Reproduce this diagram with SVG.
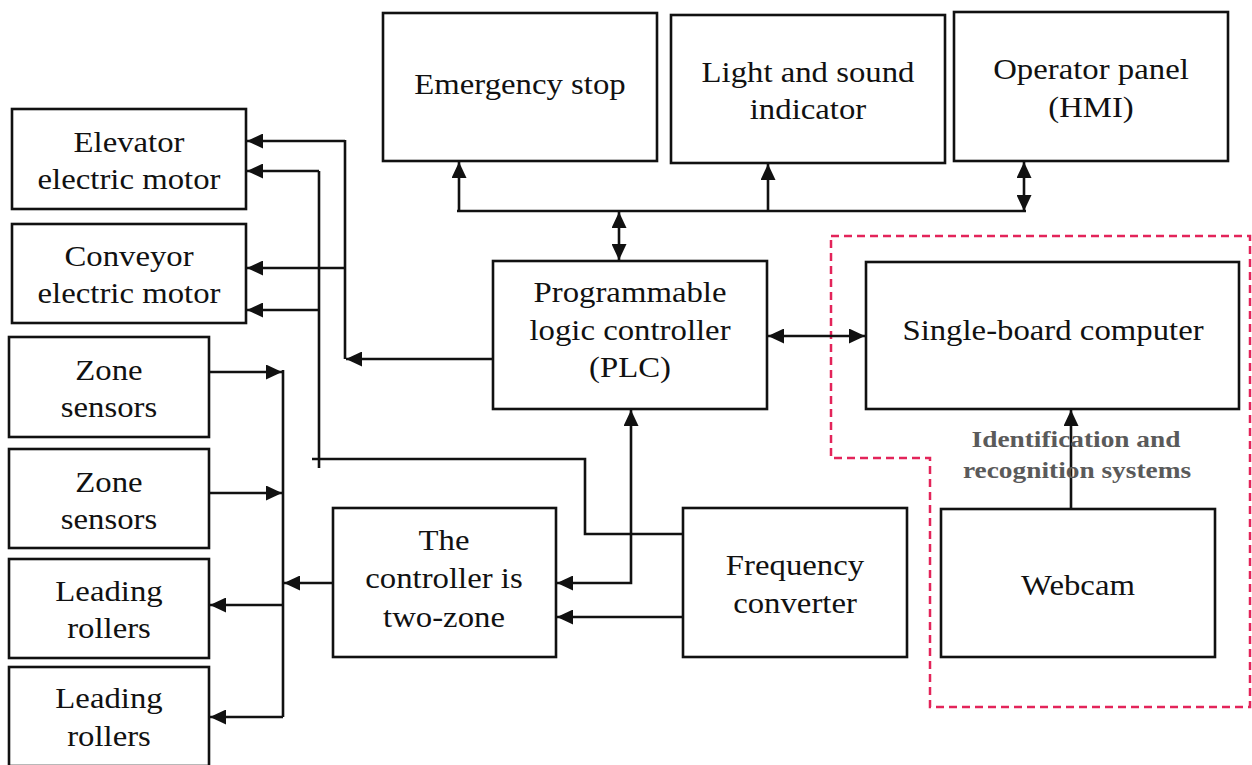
<svg xmlns="http://www.w3.org/2000/svg" width="1252" height="765" viewBox="0 0 1252 765">
<style>
.box{fill:#fff;stroke:#111;stroke-width:2.6}
.t{font-family:"Liberation Serif","Times New Roman",serif;font-size:29px;fill:#111;text-anchor:middle}
.lbl{font-family:"Liberation Serif","Times New Roman",serif;font-size:24px;font-weight:bold;fill:#5a5a5a;text-anchor:middle}
.ln{fill:none;stroke:#111;stroke-width:2.6}
.ar{fill:none;stroke:#111;stroke-width:2.6;marker-end:url(#ah)}
.dar{fill:none;stroke:#111;stroke-width:2.6;marker-start:url(#ah);marker-end:url(#ah)}
.zone{fill:none;stroke:#e3245a;stroke-width:2.5;stroke-dasharray:8 5}
</style>
<defs>
<marker id="ah" markerUnits="userSpaceOnUse" markerWidth="16" markerHeight="15" refX="16" refY="7.5" orient="auto-start-reverse">
<path d="M0,0 L16,7.5 L0,15 z" fill="#111"/>
</marker>
</defs>
<rect width="1252" height="765" fill="#fff"/>
<path class="zone" d="M831,236 L1250,236 L1250,707 L930,707 L930,458 L831,458 Z"/>
<g id="elevator"><rect class="box" x="12" y="109" width="234" height="100"/><text class="t" transform="translate(129,152) scale(1.13,1)">Elevator</text><text class="t" transform="translate(129,189) scale(1.13,1)">electric motor</text></g>
<g id="conveyor"><rect class="box" x="12" y="224" width="234" height="99"/><text class="t" transform="translate(129,266) scale(1.13,1)">Conveyor</text><text class="t" transform="translate(129,303) scale(1.13,1)">electric motor</text></g>
<g id="zone1"><rect class="box" x="9" y="337" width="200" height="100"/><text class="t" transform="translate(109,380) scale(1.13,1)">Zone</text><text class="t" transform="translate(109,417) scale(1.13,1)">sensors</text></g>
<g id="zone2"><rect class="box" x="9" y="449" width="200" height="99"/><text class="t" transform="translate(109,492) scale(1.13,1)">Zone</text><text class="t" transform="translate(109,529) scale(1.13,1)">sensors</text></g>
<g id="lead1"><rect class="box" x="9" y="559" width="200" height="99"/><text class="t" transform="translate(109,601) scale(1.13,1)">Leading</text><text class="t" transform="translate(109,638) scale(1.13,1)">rollers</text></g>
<g id="lead2"><rect class="box" x="9" y="667" width="200" height="99"/><text class="t" transform="translate(109,708) scale(1.13,1)">Leading</text><text class="t" transform="translate(109,746) scale(1.13,1)">rollers</text></g>
<g id="estop"><rect class="box" x="383" y="13" width="274" height="148"/><text class="t" transform="translate(520,94) scale(1.13,1)">Emergency stop</text></g>
<g id="light"><rect class="box" x="671" y="15" width="274" height="148"/><text class="t" transform="translate(808,82) scale(1.13,1)">Light and sound</text><text class="t" transform="translate(808,119) scale(1.13,1)">indicator</text></g>
<g id="hmi"><rect class="box" x="954" y="12" width="274" height="149"/><text class="t" transform="translate(1091,79) scale(1.13,1)">Operator panel</text><text class="t" transform="translate(1091,117) scale(1.13,1)">(HMI)</text></g>
<g id="plc"><rect class="box" x="493" y="261" width="274" height="148"/><text class="t" transform="translate(630,302) scale(1.13,1)">Programmable</text><text class="t" transform="translate(630,340) scale(1.13,1)">logic controller</text><text class="t" transform="translate(630,377) scale(1.13,1)">(PLC)</text></g>
<g id="sbc"><rect class="box" x="866" y="262" width="373" height="147"/><text class="t" transform="translate(1053,340) scale(1.13,1)">Single-board computer</text></g>
<g id="ctrl"><rect class="box" x="333" y="508" width="223" height="149"/><text class="t" transform="translate(444,550) scale(1.13,1)">The</text><text class="t" transform="translate(444,588) scale(1.13,1)">controller is</text><text class="t" transform="translate(444,627) scale(1.13,1)">two-zone</text></g>
<g id="freq"><rect class="box" x="683" y="508" width="224" height="149"/><text class="t" transform="translate(795,575) scale(1.13,1)">Frequency</text><text class="t" transform="translate(795,613) scale(1.13,1)">converter</text></g>
<g id="webcam"><rect class="box" x="941" y="509" width="274" height="148"/><text class="t" transform="translate(1078,595) scale(1.13,1)">Webcam</text></g>
<g id="connectors">
<path class="ln" d="M457,211 L1026,211"/>
<path class="ar" d="M459,211 L459,162"/>
<path class="ar" d="M768,211 L768,164"/>
<path class="dar" d="M1024,211 L1024,162"/>
<path class="dar" d="M619,212 L619,260"/>
<path class="dar" d="M768,336 L865,336"/>
<path class="ar" d="M1071,509 L1071,410"/>
<path class="ar" d="M493,359 L346,359"/>
<path class="ln" d="M345,359 L345,140"/>
<path class="ar" d="M345,141 L247,141"/>
<path class="ar" d="M345,268 L247,268"/>
<path class="ln" d="M683,534 L585,534 L585,459 L312,459"/>
<path class="ln" d="M319,468 L319,171"/>
<path class="ar" d="M319,171 L247,171"/>
<path class="ar" d="M319,310 L247,310"/>
<path class="dar" d="M631,410 L631,583 L557,583"/>
<path class="ar" d="M683,617 L557,617"/>
<path class="ar" d="M333,583 L284,583"/>
<path class="ln" d="M283,370 L283,717"/>
<path class="ar" d="M209,372 L282,372"/>
<path class="ar" d="M209,493 L282,493"/>
<path class="ar" d="M283,605 L210,605"/>
<path class="ar" d="M283,717 L210,717"/>
</g>
<text class="lbl" transform="translate(1076,447) scale(1.14,1)">Identification and</text>
<text class="lbl" transform="translate(1077,478) scale(1.14,1)">recognition systems</text>
</svg>
